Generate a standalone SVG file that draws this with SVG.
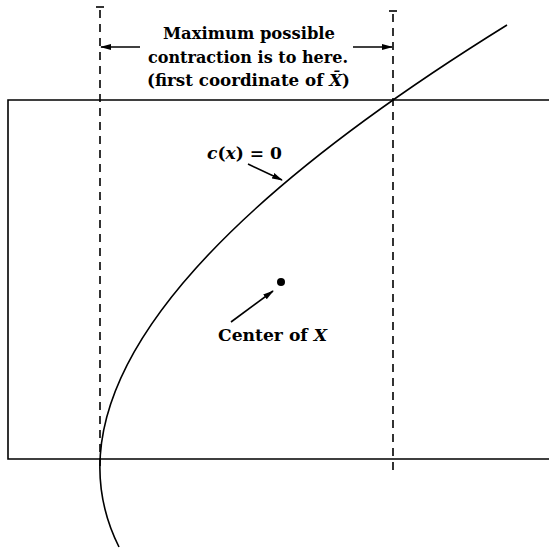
<svg xmlns="http://www.w3.org/2000/svg" width="549" height="548" viewBox="0 0 549 548">
<style>
.ln{stroke:#000;stroke-width:1.6;fill:none}
.dash{stroke:#000;stroke-width:1.6;fill:none;stroke-dasharray:8 6}
.t{font-family:"DejaVu Serif","Liberation Serif",serif;font-weight:bold;font-size:17px;fill:#000}
.it{font-style:italic}
.arr{stroke:#000;stroke-width:1.6;fill:none;marker-end:url(#ah)}
</style>
<defs>
<marker id="ah" markerWidth="11" markerHeight="8" refX="10" refY="4" orient="auto" markerUnits="userSpaceOnUse">
<path d="M0,1 L11,4 L0,7 Z" fill="#000"/>
</marker>
</defs>
<rect width="549" height="548" fill="#fff"/>
<g id="box">
<path class="ln" d="M549,100 H8 V459 H549"/>
</g>
<g id="bounds">
<path class="dash" d="M100,10 V470"/>
<path class="ln" d="M96,7 H104"/>
<path class="dash" d="M393,14 V470"/>
<path class="ln" d="M389,11 H397"/>
</g>
<g id="curve">
<path class="ln" d="M119,547 Q11.6,332.2 507,25"/>
</g>
<g id="label-max">
<text class="t" x="249" y="39" text-anchor="middle" textLength="172" lengthAdjust="spacingAndGlyphs">Maximum possible</text>
<text class="t" x="248" y="63" text-anchor="middle" textLength="200" lengthAdjust="spacingAndGlyphs">contraction is to here.</text>
<text class="t" x="248.5" y="86" text-anchor="middle" textLength="203" lengthAdjust="spacingAndGlyphs">(first coordinate of <tspan class="it">X̄</tspan>)</text>
</g>
<g id="label-c">
<text class="t" x="207" y="159" textLength="75" lengthAdjust="spacingAndGlyphs"><tspan class="it">c</tspan>(<tspan class="it">x</tspan>) = 0</text>
</g>
<g id="center">
<circle cx="281" cy="282" r="4" fill="#000"/>
<text class="t" x="218" y="341" textLength="109" lengthAdjust="spacingAndGlyphs">Center of <tspan class="it">X</tspan></text>
</g>
<g id="connectors">
<path class="arr" d="M140,47 H101"/>
<path class="arr" d="M353,47 H392"/>
<path class="arr" d="M248,164 L282,180"/>
<path class="arr" d="M231,322 L273,291"/>
</g>
</svg>
